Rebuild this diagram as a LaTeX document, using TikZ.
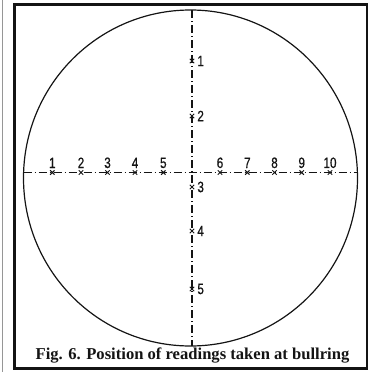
\documentclass[tikz,border=0pt]{standalone}
\usepackage{fontspec}
\usepackage{tikz}
\usetikzlibrary{shapes.misc, positioning}
\setmainfont{Liberation Serif}
\newfontfamily\numfont[FakeStretch=0.78, FakeBold=0.6]{Liberation Sans}
\definecolor{myink}{RGB}{20,20,20}
\definecolor{myedge}{RGB}{150,150,150}
\tikzset{
  frame/.style={draw=myink, line width=2.6pt},
  ring/.style={draw=myink, line width=1.2pt},
  axisline/.style={draw=myink, line width=1.1pt,
    dash pattern=on 8pt off 3pt on 1pt off 3pt},
  rdg/.style={cross out, draw=myink, line width=1pt,
    minimum size=3.4pt, inner sep=0pt},
  numlbl/.style={font=\numfont\fontsize{15}{15}\selectfont, text=myink,
    inner sep=0.5pt},
  caption/.style={font=\bfseries\fontsize{16.6}{18}\selectfont, text=myink}
}
\begin{document}
\begin{tikzpicture}[x=1pt, y=-1pt, node distance=1.5pt]
  \useasboundingbox (0,0) rectangle (374,372);
  \draw[myedge, line width=1pt] (2.5,0) -- (2.5,372);
  \draw[frame] (14.5,4.5) rectangle (367,368.5);
  \draw[ring] (190.5,178) ellipse [x radius=167pt, y radius=168pt];

  % axes through the ring
  \coordinate (top) at (192,10);
  \coordinate (bot) at (192,346);
  \coordinate (lft) at (23.5,172.5);
  \coordinate (rgt) at (357.5,172.5);
  \draw[axisline] (top) -- (bot);
  \draw[axisline] (lft) -- (rgt);

  % readings across
  \node[rdg] (h1) at (52.3,172.5) {};
  \node[rdg] (h2) at (81,172.5) {};
  \node[rdg] (h3) at (107.5,172.5) {};
  \node[rdg] (h4) at (135,172.5) {};
  \node[rdg] (h5) at (163.3,172.5) {};
  \node[rdg] (h6) at (220,172.5) {};
  \node[rdg] (h7) at (247.3,172.5) {};
  \node[rdg] (h8) at (274.5,172.5) {};
  \node[rdg] (h9) at (301.7,172.5) {};
  \node[rdg] (h10) at (330,172.5) {};
  \node[numlbl, above=of h1] {1};
  \node[numlbl, above=of h2] {2};
  \node[numlbl, above=of h3] {3};
  \node[numlbl, above=of h4] {4};
  \node[numlbl, above=of h5] {5};
  \node[numlbl, above=of h6] {6};
  \node[numlbl, above=of h7] {7};
  \node[numlbl, above=of h8] {8};
  \node[numlbl, above=of h9] {9};
  \node[numlbl, above=of h10] {10};

  % readings down
  \node[rdg] (v1) at (192,61) {};
  \node[rdg] (v2) at (192,116) {};
  \node[rdg] (v3) at (192,187) {};
  \node[rdg] (v4) at (192,231) {};
  \node[rdg] (v5) at (192,289) {};
  \node[numlbl, right=2.5pt of v1] {1};
  \node[numlbl, right=2.5pt of v2] {2};
  \node[numlbl, right=2.5pt of v3] {3};
  \node[numlbl, right=2.5pt of v4] {4};
  \node[numlbl, right=2.5pt of v5] {5};

  \node[caption] (cap) at (192.5,355.5) {Fig. 6. Position of readings taken at bullring};
\end{tikzpicture}
\end{document}
